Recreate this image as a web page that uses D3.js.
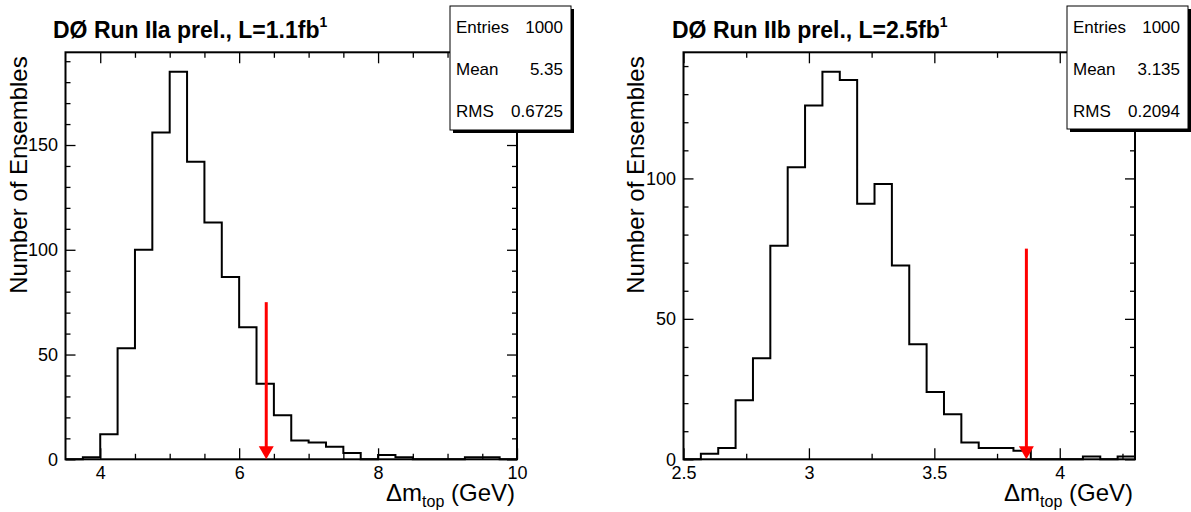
<!DOCTYPE html>
<html>
<head>
<meta charset="utf-8">
<script src="https://cdn.jsdelivr.net/npm/d3@7"></script>
<style>
  body { margin: 0; background: #fff; }
  svg { display: block; font-family: "Liberation Sans", Arial, sans-serif; }
</style>
</head>
<body>
<div id="wrapper"></div>
<script>
// ---- data ----
// Run IIa, 26 bins from 3.5 to 10 GeV
const domainA = [3.5, 10]
const countsA = [0, 1, 12, 53, 100, 156, 185, 142, 113, 87, 63, 36, 21, 9, 8, 6, 3, 0, 2, 1, 0, 0, 0, 1, 1, 0]
const majorA = [4, 6, 8, 10]
const minorA = [4.5, 5, 5.5, 6.5, 7, 7.5, 8.5, 9, 9.5]
const arrowA = 6.39
// Run IIb, 26 bins from 2.5 to 4.3 GeV
const domainB = [2.5, 4.3]
const countsB = [0, 2, 4, 21, 36, 76, 104, 126, 138, 135, 91, 98, 69, 41, 24, 16, 6, 4, 4, 3, 0, 0, 0, 1, 0, 1]
const majorB = [2.5, 3, 3.5, 4]
const minorB = [2.75, 3.25, 3.75, 4.25]
const arrowB = 3.867
const arrowTop = 75

const yMajorA = [0, 50, 100, 150]
const yMajorB = [0, 50, 100]

const titles = ["DØ Run IIa prel., L=1.1fb", "DØ Run IIb prel., L=2.5fb"]
const statsA = [["Entries", "1000"], ["Mean", "5.35"], ["RMS", "0.6725"]]
const statsB = [["Entries", "1000"], ["Mean", "3.135"], ["RMS", "0.2094"]]

const width = 1191
const height = 512

const svg = d3.select("#wrapper")
    .append("svg")
    .attr("width", width)
    .attr("height", height)

function drawPanel (opt) {
    const x = d3.scaleLinear().domain(opt.domain).range([opt.left, opt.right])
    const yMax = d3.max(opt.counts) * 1.05
    const y = d3.scaleLinear().domain([0, yMax]).range([opt.bottom, opt.top])
    const g = svg.append("g")

    // histogram outline
    const step = (opt.domain[1] - opt.domain[0]) / opt.counts.length
    const pts = [[opt.domain[0], 0]]
    opt.counts.forEach((c, i) => {
        pts.push([opt.domain[0] + i * step, c])
        pts.push([opt.domain[0] + (i + 1) * step, c])
    })
    pts.push([opt.domain[1], 0])
    g.append("path")
        .attr("d", d3.line().x(d => x(d[0])).y(d => y(d[1]))(pts))
        .attr("fill", "none")
        .attr("stroke", "#000")
        .attr("stroke-width", 2)

    // ticks (ROOT style: inside, mirrored)
    const tickStyle = sel => {
        sel.select(".domain").remove()
        sel.selectAll(".tick line").attr("stroke", "#000").attr("stroke-width", 1.3)
        sel.selectAll("text").attr("font-size", 18).attr("fill", "#000")
    }
    g.append("g").attr("transform", `translate(0,${opt.bottom})`)
        .call(d3.axisBottom(x).tickValues(opt.major).tickSize(-11).tickPadding(7).tickFormat(d3.format("")))
        .call(tickStyle)
    g.append("g").attr("transform", `translate(0,${opt.bottom})`)
        .call(d3.axisBottom(x).tickValues(opt.minor).tickSize(-5.5).tickFormat(""))
        .call(tickStyle)
    g.append("g").attr("transform", `translate(0,${opt.top})`)
        .call(d3.axisTop(x).tickValues(opt.major).tickSize(-11).tickFormat(""))
        .call(tickStyle)
    g.append("g").attr("transform", `translate(0,${opt.top})`)
        .call(d3.axisTop(x).tickValues(opt.minor).tickSize(-5.5).tickFormat(""))
        .call(tickStyle)

    const yMinor = d3.range(10, yMax, 10).filter(v => v % 50 !== 0)
    g.append("g").attr("transform", `translate(${opt.left},0)`)
        .call(d3.axisLeft(y).tickValues(opt.yMajor).tickSize(-10).tickPadding(7.5).tickFormat(d3.format("")))
        .call(tickStyle)
    g.append("g").attr("transform", `translate(${opt.left},0)`)
        .call(d3.axisLeft(y).tickValues(yMinor).tickSize(-5).tickFormat(""))
        .call(tickStyle)
    g.append("g").attr("transform", `translate(${opt.right},0)`)
        .call(d3.axisRight(y).tickValues(opt.yMajor).tickSize(-10).tickFormat(""))
        .call(tickStyle)
    g.append("g").attr("transform", `translate(${opt.right},0)`)
        .call(d3.axisRight(y).tickValues(yMinor).tickSize(-5).tickFormat(""))
        .call(tickStyle)

    // frame
    g.append("rect")
        .attr("x", opt.left).attr("y", opt.top)
        .attr("width", opt.right - opt.left).attr("height", opt.bottom - opt.top)
        .attr("fill", "none").attr("stroke", "#000").attr("stroke-width", 2)

    // red arrow
    const ax = x(opt.arrow)
    g.append("line")
        .attr("x1", ax).attr("x2", ax)
        .attr("y1", y(arrowTop)).attr("y2", opt.bottom - 10)
        .attr("stroke", "#ff0000").attr("stroke-width", 3)
    g.append("path")
        .attr("d", `M${ax - 7.5},${opt.bottom - 13}L${ax + 7.5},${opt.bottom - 13}L${ax},${opt.bottom}Z`)
        .attr("fill", "#ff0000")

    // axis titles
    const xt = g.append("text")
        .attr("x", opt.right - 2).attr("y", opt.bottom + 42)
        .attr("text-anchor", "end")
        .attr("font-size", 24)
    xt.append("tspan").text("Δm")
    xt.append("tspan").attr("font-size", 16).attr("dy", 6).text("top")
    xt.append("tspan").attr("dy", -6).text(" (GeV)")

    g.append("text")
        .attr("transform", `translate(${opt.yTitleX},${opt.top + 4}) rotate(-90)`)
        .attr("text-anchor", "end")
        .attr("font-size", 24)
        .text("Number of Ensembles")

    // title
    const t = g.append("text")
        .attr("x", opt.titleX).attr("y", 38)
        .attr("font-size", 23)
        .attr("font-weight", "bold")
    t.append("tspan").text(opt.title)
    t.append("tspan").attr("font-size", 14).attr("dy", -11).text("1")

    // stats box
    const b = opt.box
    g.append("rect")
        .attr("x", b.x + 3).attr("y", b.y + 3).attr("width", b.w).attr("height", b.h)
        .attr("fill", "#000")
    g.append("rect")
        .attr("x", b.x).attr("y", b.y).attr("width", b.w).attr("height", b.h)
        .attr("fill", "#fff").attr("stroke", "#000").attr("stroke-width", 1)
    opt.stats.forEach((s, i) => {
        const by = b.y + 27 + i * 42
        g.append("text").attr("x", b.x + 6).attr("y", by)
            .attr("font-size", 17).text(s[0])
        g.append("text").attr("x", b.x + b.w - 8).attr("y", by)
            .attr("font-size", 17).attr("text-anchor", "end").text(s[1])
    })
}

drawPanel({
    domain: domainA, counts: countsA, major: majorA, minor: minorA, yMajor: yMajorA,
    arrow: arrowA, left: 65.5, right: 517, top: 52.3, bottom: 459.3,
    yTitleX: 27, titleX: 53, title: titles[0], stats: statsA,
    box: { x: 450, y: 6, w: 121, h: 124 }
})
drawPanel({
    domain: domainB, counts: countsB, major: majorB, minor: minorB, yMajor: yMajorB,
    arrow: arrowB, left: 683.5, right: 1135, top: 52.3, bottom: 459.3,
    yTitleX: 643.5, titleX: 672, title: titles[1], stats: statsB,
    box: { x: 1067, y: 6, w: 121, h: 123 }
})
</script>
</body>
</html>
